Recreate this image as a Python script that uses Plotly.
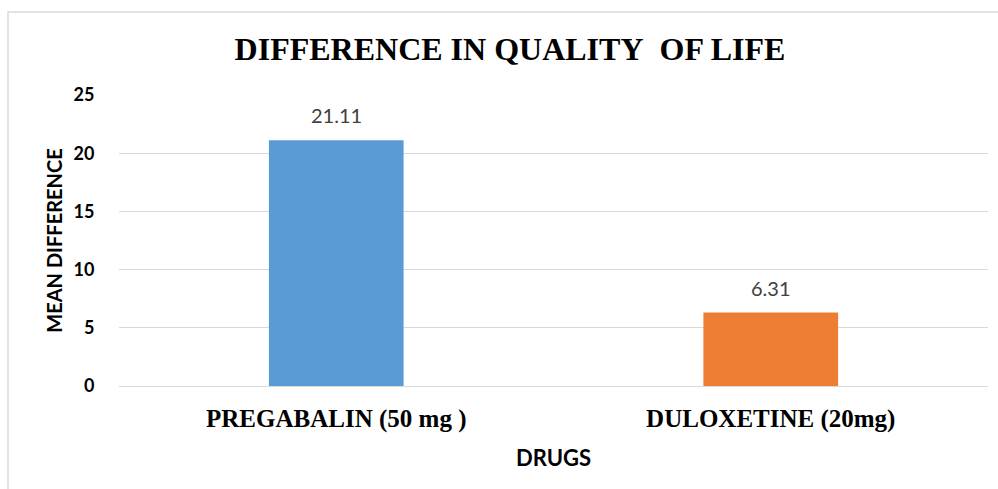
import plotly.graph_objects as go

# Mean change in quality-of-life score per drug
drugs = ["PREGABALIN (50 mg )", "DULOXETINE (20mg)"]
mean_diff = [21.11, 6.31]
bar_colors = ["#5B9BD5", "#ED7D31"]
y_ticks = [0, 5, 10, 15, 20, 25]

W, H = 998, 489
L, R, T, B = 119, 10, 95, 103

SANS = "Lato, 'Open Sans', sans-serif"
SERIF = "'Liberation Serif', 'Times New Roman', serif"

fig = go.Figure()
fig.add_trace(go.Bar(
    x=drugs,
    y=mean_diff,
    marker=dict(color=bar_colors, line=dict(width=0)),
    width=0.31,
    hoverinfo="x+y",
))

# value labels above each bar
for d, v in zip(drugs, mean_diff):
    fig.add_annotation(
        x=d, y=v, text=f"{v:.2f}", showarrow=False,
        yanchor="bottom", yshift=11,
        font=dict(family=SANS, size=20, color="#404040"),
    )

# outer frame of the chart area
pw, ph = W - L - R, H - T - B
fig.add_shape(
    type="rect", xref="paper", yref="paper",
    x0=(8 - L) / pw, x1=(W + 20 - L) / pw,
    y0=-(H + 20 - T - ph) / ph, y1=(T - 12) / ph + 1,
    line=dict(color="#D9D9D9", width=1.5), fillcolor="rgba(0,0,0,0)",
    layer="below",
)

fig.update_layout(
    width=W, height=H,
    margin=dict(l=L, r=R, t=T, b=B),
    paper_bgcolor="white", plot_bgcolor="white",
    showlegend=False,
    title=dict(
        text="DIFFERENCE IN QUALITY&nbsp; OF LIFE",
        x=510 / W, xanchor="center",
        y=1 - 49 / H, yanchor="middle",
        font=dict(family=SERIF, size=32, color="black", weight="bold"),
    ),
    xaxis=dict(
        showgrid=False, showline=False, zeroline=False,
        ticks="outside", ticklen=10, tickcolor="rgba(0,0,0,0)",
        tickfont=dict(family=SERIF, size=25, color="black", weight="bold"),
        title=dict(
            text="DRUGS", standoff=18,
            font=dict(family=SANS, size=22, color="black", weight="bold"),
        ),
    ),
    yaxis=dict(
        range=[0, 25], tickvals=y_ticks,
        showgrid=True, gridcolor="#D9D9D9", gridwidth=1,
        zeroline=True, zerolinecolor="#D9D9D9", zerolinewidth=1,
        showline=False,
        ticks="outside", ticklen=20, tickcolor="rgba(0,0,0,0)",
        tickfont=dict(family=SANS, size=18, color="black", weight="bold"),
        title=dict(
            text="MEAN DIFFERENCE", standoff=5,
            font=dict(family=SANS, size=20, color="black", weight="bold"),
        ),
    ),
    bargap=0.69,
)

fig.write_html("out.html")
